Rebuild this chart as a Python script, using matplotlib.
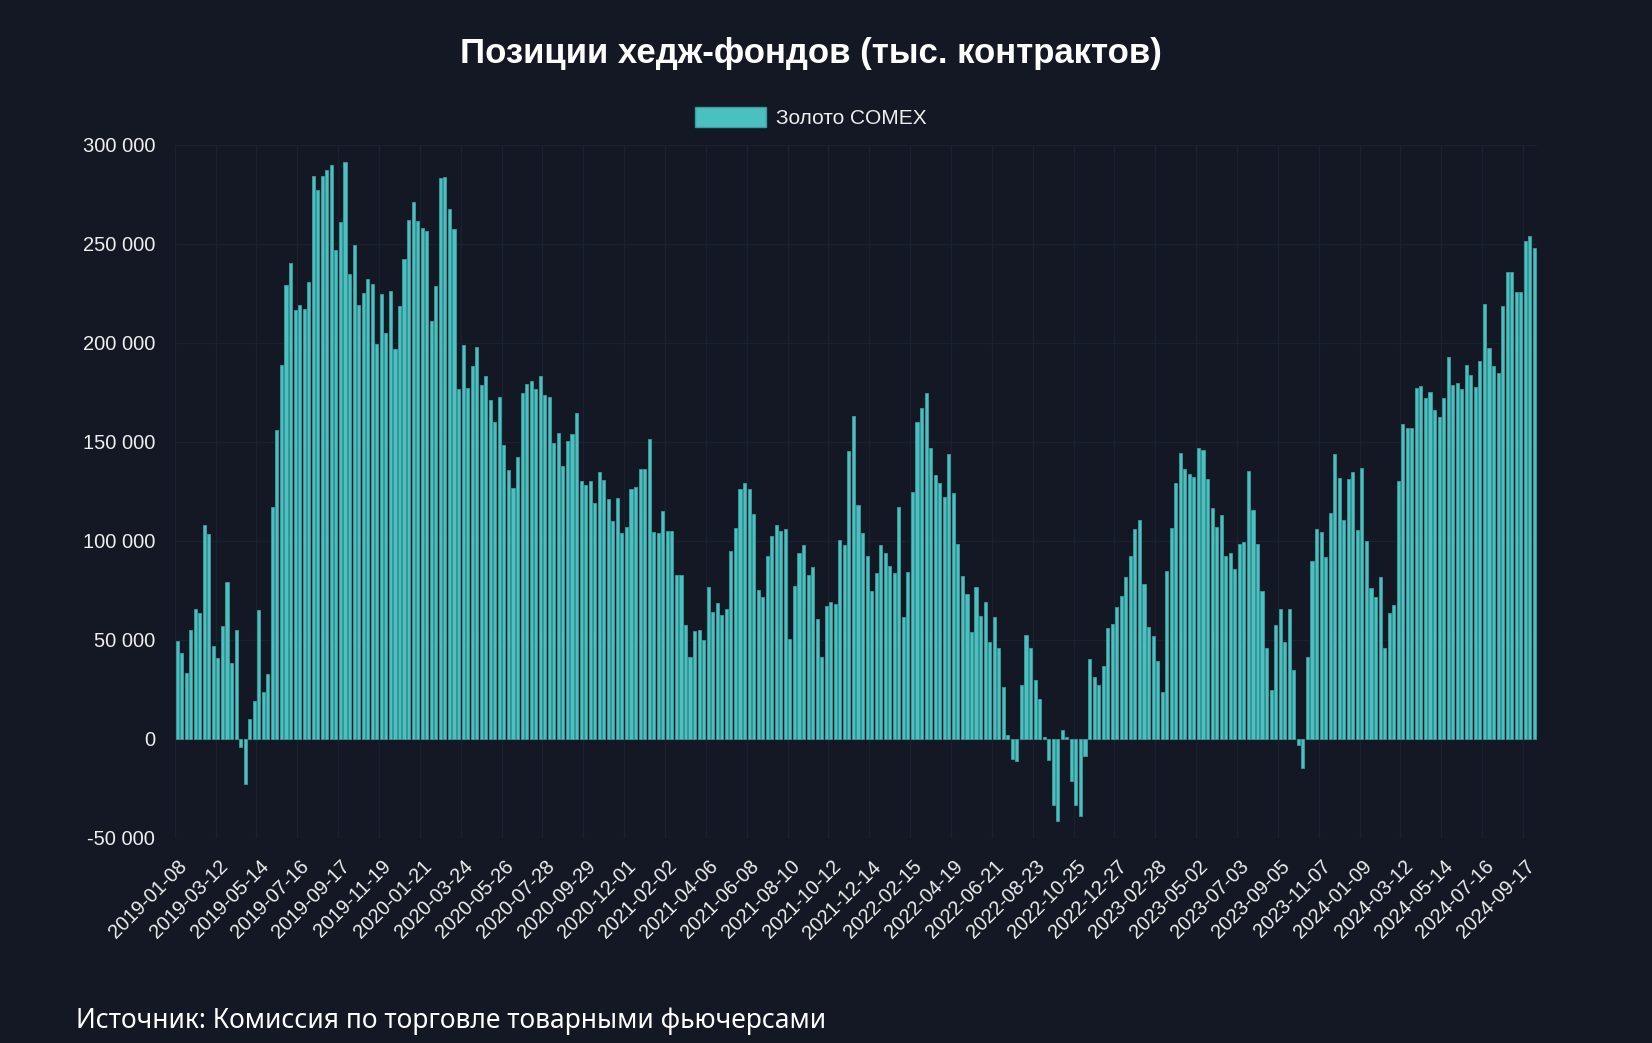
import matplotlib
matplotlib.use("Agg")
import matplotlib.pyplot as plt
from matplotlib.patches import Patch
from matplotlib.ticker import FuncFormatter
import pandas as pd

# Weekly COT report dates (Tuesdays), one holiday shift
dates = pd.date_range("2019-01-08", periods=300, freq="W-TUE").strftime("%Y-%m-%d").tolist()
dates = ["2023-07-03" if d == "2023-07-04" else d for d in dates]

# Net positions, contracts
positions = [
    49200, 43100, 33400, 55100, 65700, 63700, 108000, 103500, 47000, 40900,
    56900, 79100, 38400, 54900, -4300, -22800, 9700, 19000, 65100, 23700,
    32500, 117000, 155900, 188900, 229000, 240400, 216400, 219100, 216900, 230600,
    284200, 277200, 284200, 287300, 289800, 247100, 261100, 291200, 234700, 249200,
    218900, 225200, 232500, 229700, 199500, 224800, 204900, 226100, 196800, 218400,
    242200, 262300, 271300, 261400, 258200, 256600, 210800, 228600, 283500, 284000,
    267700, 257700, 176700, 199000, 177100, 188200, 197700, 178700, 183000, 171200,
    160200, 172600, 148200, 135800, 126500, 142300, 174900, 179100, 180700, 176700,
    183200, 173700, 172600, 149300, 154500, 137800, 150400, 153800, 164500, 130100,
    128100, 130100, 119000, 134600, 130800, 121300, 110200, 121800, 103900, 106900,
    126100, 127200, 136400, 136200, 151400, 104400, 104100, 115000, 105000, 105000,
    82900, 82700, 57200, 41100, 54200, 55100, 49700, 76800, 64200, 68400,
    62300, 65300, 94700, 106200, 126100, 129000, 126300, 113600, 75200, 71800,
    92200, 102300, 108000, 105000, 105700, 50100, 77000, 93700, 98000, 82900,
    86500, 60500, 41300, 66900, 68900, 68200, 100500, 98000, 145500, 163100,
    117900, 104100, 92400, 74800, 83800, 98000, 94000, 87000, 83600, 116800,
    61700, 84000, 124700, 159900, 167200, 174800, 146800, 133300, 129200, 122000,
    143700, 124000, 98500, 82000, 73200, 53800, 76800, 61900, 68900, 48800,
    61200, 45900, 26200, 1800, -10400, -11100, 27100, 52200, 45600, 29600,
    20100, 700, -10600, -33700, -41600, 4300, 700, -21200, -33700, -39300,
    -8800, 40000, 31200, 27100, 36800, 55800, 57800, 66400, 72100, 81800,
    92400, 105700, 110700, 77900, 56500, 51700, 39100, 23300, 84500, 106200,
    129400, 144100, 136400, 133500, 132200, 146800, 145700, 131000, 116300, 106800,
    113200, 92400, 93700, 85600, 98300, 99600, 135100, 115400, 98500, 74800,
    45600, 24800, 57400, 65500, 49000, 65700, 34800, -3400, -15100, 41100,
    89900, 105700, 104400, 91900, 114100, 143700, 131700, 110700, 131000, 134600,
    105500, 136700, 99800, 75900, 71400, 81800, 45600, 63500, 67300, 130100,
    159000, 156800, 157000, 177300, 178200, 172100, 175300, 166300, 162400, 172100,
    193100, 178500, 179800, 176700, 188900, 183900, 177800, 190900, 219600, 197500,
    188200, 184800, 218700, 235800, 235800, 225700, 225700, 251700, 254100, 248000,
]

series_name = "Золото COMEX"
title = "Позиции хедж-фондов (тыс. контрактов)"
source = "Источник: Комиссия по торговле товарными фьючерсами"

BG = "#131824"
TEAL = "#4bc0c0"
EDGE = "#3a9c9c"
TXT = "#eeeeee"
GRID = "#1c2130"

plt.rcParams["font.family"] = ["Liberation Sans", "DejaVu Sans"]

fig = plt.figure(figsize=(16.52, 10.43), dpi=100, facecolor=BG)
ax = fig.add_axes([0.1058, 0.197, 0.8244, 0.664])
ax.set_facecolor(BG)

x = list(range(len(positions)))
ax.bar(x, positions, width=0.68, color=TEAL, edgecolor=EDGE, linewidth=0.6, zorder=3)

ax.set_xlim(-0.5, len(positions) - 0.5)
ax.set_ylim(-50000, 300000)
ax.set_yticks(range(-50000, 300001, 50000))
ax.yaxis.set_major_formatter(FuncFormatter(lambda v, p: f"{int(v):,}".replace(",", " ")))

tick_idx = list(range(0, len(dates), 9))
ax.set_xticks(tick_idx)
ax.set_xticklabels([dates[i] for i in tick_idx], rotation=45, ha="right",
                   rotation_mode="anchor", fontsize=14.3, color=TXT)
ax.tick_params(axis="x", length=0, pad=14)
ax.tick_params(axis="y", length=0, pad=14, labelsize=14.5, labelcolor=TXT)

# faint grid (vertical lines sit on category edges)
for i in tick_idx:
    ax.axvline(i - 0.5, color=GRID, linewidth=1, zorder=0)
for v in range(-50000, 300001, 50000):
    ax.axhline(v, color=GRID, linewidth=1, zorder=0)

for s in ax.spines.values():
    s.set_visible(False)

fig.text(0.491, 0.949, title, ha="center", va="center", fontsize=25,
         fontweight="bold", color="white")

handle = Patch(facecolor=TEAL, edgecolor=EDGE, linewidth=1)
fig.legend([handle], [series_name], loc="center", bbox_to_anchor=(0.491, 0.887),
           frameon=False, fontsize=15, labelcolor=TXT, handlelength=3.4,
           handleheight=1.05, handletextpad=0.5)

fig.text(0.046, 0.021, source, ha="left", va="center", fontsize=19,
         color="white", family=["Noto Sans", "DejaVu Sans"])

fig.savefig("out.png", dpi=100, facecolor=BG)
